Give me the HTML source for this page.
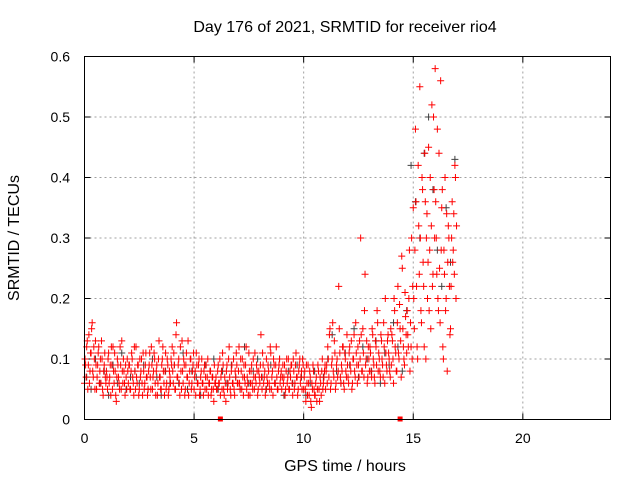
<!DOCTYPE html>
<html><head><meta charset="utf-8"><style>
body{margin:0;background:#fff;}
svg{display:block;font-family:"Liberation Sans",sans-serif;}
</style></head><body>
<svg id="chart" width="640" height="480" viewBox="0 0 640 480" xmlns="http://www.w3.org/2000/svg">
<rect width="640" height="480" fill="#fff"/>
<g id="grid"></g>
<g id="ticks"></g>
<g id="grey"></g>
<g id="red"></g>
<rect x="84.5" y="56.5" width="526" height="363" fill="none" stroke="#000" stroke-width="1"/>
<text x="345" y="32" font-size="16" text-anchor="middle">Day 176 of 2021, SRMTID for receiver rio4</text>
<text x="345" y="471" font-size="16" text-anchor="middle">GPS time / hours</text>
<text transform="translate(19,238) rotate(-90)" font-size="16" text-anchor="middle">SRMTID / TECUs</text>
</svg>
<script>
const xTicks=[0,5,10,15,20];
const yTicks=[0,0.1,0.2,0.3,0.4,0.5,0.6];
const yTickLabels=["0","0.1","0.2","0.3","0.4","0.5","0.6"];
const redStep=0.05;
const redValues=[
.06,.09,.12,.05,.14,.08,.11,.16,.07,.10,.13,.05,.09,.12,.08,.06,.10,.04,.09,.07,
.08,.05,.11,.07,.04,.09,.12,.06,.08,.03,.10,.07,.05,.09,.13,.06,.08,.04,.07,.10,
.06,.09,.05,.11,.07,.04,.08,.12,.06,.09,.05,.07,.10,.04,.08,.06,.11,.07,.05,.09,
.07,.12,.05,.08,.10,.04,.09,.06,.13,.07,.05,.10,.08,.04,.11,.06,.09,.05,.07,.10,
.12,.06,.09,.05,.16,.07,.10,.04,.08,.13,.06,.09,.05,.11,.07,.04,.08,.10,.06,.09,
.05,.08,.11,.06,.09,.04,.07,.10,.06,.08,.05,.09,.07,.04,.06,.08,.05,.07,.03,.06,
.07,.05,.09,.06,.04,.08,.11,.05,.07,.03,.09,.06,.12,.05,.08,.06,.10,.04,.07,.09,
.06,.12,.05,.08,.10,.04,.07,.09,.05,.06,.11,.04,.08,.06,.10,.05,.07,.09,.04,.08,
.06,.14,.05,.09,.07,.04,.10,.06,.08,.05,.11,.07,.04,.09,.06,.12,.05,.08,.10,.07,
.05,.09,.07,.04,.08,.06,.10,.05,.07,.09,.04,.08,.06,.11,.07,.05,.09,.06,.08,.10,
.05,.08,.03,.06,.09,.04,.07,.02,.05,.08,.04,.06,.03,.09,.05,.07,.04,.10,.06,.08,
.05,.09,.12,.07,.15,.06,.10,.08,.13,.05,.09,.07,.22,.11,.06,.08,.12,.05,.10,.07,
.09,.06,.12,.08,.05,.10,.14,.07,.11,.06,.09,.13,.30,.08,.15,.07,.24,.10,.06,.12,
.08,.11,.07,.14,.09,.06,.12,.18,.08,.10,.07,.13,.09,.16,.06,.11,.08,.14,.10,.07,
.09,.13,.06,.18,.11,.08,.22,.10,.15,.07,.25,.12,.09,.17,.11,.14,.20,.08,.12,.10,
.35,.15,.48,.22,.10,.32,.55,.18,.40,.26,.12,.36,.30,.20,.45,.28,.15,.52,.24,.38,
.58,.30,.48,.18,.25,.56,.35,.12,.28,.40,.20,.08,.32,.22,.15,.30,.26,.34,.42,.20];
const redValues2=[
.10,.07,.13,.09,.06,.11,.15,.08,.12,.05,.09,.07,.11,.06,.10,.13,.05,.08,.11,.06,
.07,.10,.06,.09,.12,.05,.08,.11,.04,.07,.09,.06,.12,.05,.08,.10,.06,.09,.05,.08,
.09,.05,.08,.10,.06,.12,.05,.07,.09,.04,.10,.08,.06,.11,.05,.09,.07,.04,.08,.11,
.05,.09,.07,.11,.06,.08,.04,.10,.07,.05,.09,.12,.06,.08,.05,.10,.04,.08,.06,.09,
.08,.11,.05,.14,.07,.09,.06,.12,.05,.08,.10,.04,.09,.07,.13,.06,.10,.05,.08,.11,
.07,.04,.09,.06,.10,.05,.08,.06,.04,.09,.07,.05,.10,.06,.08,.04,.07,.05,.09,.06,
.05,.08,.06,.10,.07,.05,.09,.04,.06,.08,.05,.10,.07,.04,.09,.06,.05,.08,.11,.06,
.08,.06,.10,.05,.07,.09,.06,.12,.07,.04,.08,.06,.09,.05,.07,.11,.06,.08,.05,.07,
.09,.07,.11,.06,.08,.05,.07,.09,.06,.12,.05,.08,.10,.06,.09,.07,.05,.09,.06,.08,
.07,.06,.09,.05,.10,.07,.05,.08,.09,.06,.10,.05,.09,.07,.04,.08,.10,.07,.05,.09,
.07,.05,.09,.04,.06,.08,.03,.06,.09,.05,.04,.07,.05,.08,.03,.06,.08,.05,.07,.09,
.08,.06,.10,.14,.05,.09,.16,.07,.11,.06,.10,.08,.15,.07,.09,.12,.06,.11,.08,.14,
.07,.11,.09,.13,.06,.10,.08,.16,.09,.12,.07,.10,.14,.08,.11,.18,.09,.13,.07,.10,
.12,.08,.15,.10,.07,.13,.09,.16,.11,.08,.14,.10,.07,.12,.20,.09,.13,.11,.08,.15,
.14,.10,.20,.12,.08,.16,.11,.19,.13,.27,.15,.10,.21,.14,.18,.12,.28,.16,.30,.22,
.20,.28,.36,.12,.42,.24,.30,.16,.38,.22,.44,.10,.34,.26,.18,.40,.32,.22,.50,.30,
.36,.24,.20,.44,.16,.28,.38,.10,.24,.18,.34,.26,.30,.14,.22,.36,.28,.24,.40,.32];
const greyStep=0.2;
const greyValues=[
.07,.05,.10,.06,.08,.04,.09,.06,.11,.05,.07,.08,.06,.09,.05,.10,.07,.04,.08,.06,
.09,.06,.11,.05,.08,.07,.04,.09,.06,.10,.05,.08,.06,.09,.07,.05,.12,.06,.08,.10,
.07,.05,.09,.06,.10,.04,.08,.06,.09,.07,.04,.06,.08,.05,.07,.10,.14,.08,.06,.11,
.09,.15,.07,.12,.10,.08,.13,.06,.11,.09,.16,.12,.08,.18,.42,.36,.30,.44,.50,.38,
.28,.22,.35,.26,.43];
const zeroMarkTimes=[6.2,14.4];

const X0=84.5,X1=610.5,Y0=419.5,Y1=56.5;
const sx=v=>X0+(v/24)*(X1-X0);
const sy=v=>Y0-(v/0.6)*(Y0-Y1);
const NS="http://www.w3.org/2000/svg";
function mk(tag,parent,attrs){const e=document.createElementNS(NS,tag);for(const k in attrs)e.setAttribute(k,attrs[k]);parent.appendChild(e);return e;}
const grid=document.getElementById('grid'),ticks=document.getElementById('ticks');
xTicks.forEach(t=>{
  const x=sx(t);
  if(t>0){const g=mk('line',grid,{x1:x,x2:x,y1:Y1,y2:Y0,stroke:'#a0a0a0','stroke-dasharray':'2,3'});
  
  }
  mk('line',ticks,{x1:x,x2:x,y1:Y0,y2:Y0-6,stroke:'#000'});
  mk('line',ticks,{x1:x,x2:x,y1:Y1,y2:Y1+6,stroke:'#000'});
  const l=mk('text',ticks,{x:x,y:443,'font-size':14,'text-anchor':'middle'});l.textContent=t;
  
  
});
yTicks.forEach((t,i)=>{
  const y=sy(t);
  if(i>0&&i<yTicks.length-1){const g=mk('line',grid,{x1:X0,x2:X1,y1:y,y2:y,stroke:'#a0a0a0','stroke-dasharray':'2,3'});
  
  }
  mk('line',ticks,{x1:X0,x2:X0+6,y1:y,y2:y,stroke:'#000'});
  mk('line',ticks,{x1:X1,x2:X1-6,y1:y,y2:y,stroke:'#000'});
  const l=mk('text',ticks,{x:70,y:y+5,'font-size':14,'text-anchor':'end'});l.textContent=yTickLabels[i];
  
  
});
function plus(g,x,y,c){
  const p=mk('path',g,{d:`M${x-3.5},${y}h7M${x},${y-3.5}v7`,stroke:c,'stroke-width':1,fill:'none'});
  
  
}
const grey=document.getElementById('grey'),red=document.getElementById('red');
greyValues.forEach((v,i)=>plus(grey,sx(i*greyStep+0.1),sy(v),'#404040'));
redValues.forEach((v,i)=>plus(red,sx(i*redStep),sy(v),'#ff0000'));
redValues2.forEach((v,i)=>plus(red,sx(i*redStep+0.025),sy(v),'#ff0000'));
zeroMarkTimes.forEach(t=>{
  const r=mk('rect',red,{x:sx(t)-2.5,y:Y0-3,width:5,height:5,fill:'#ff0000'});
  
  
});
</script>
</body></html>
